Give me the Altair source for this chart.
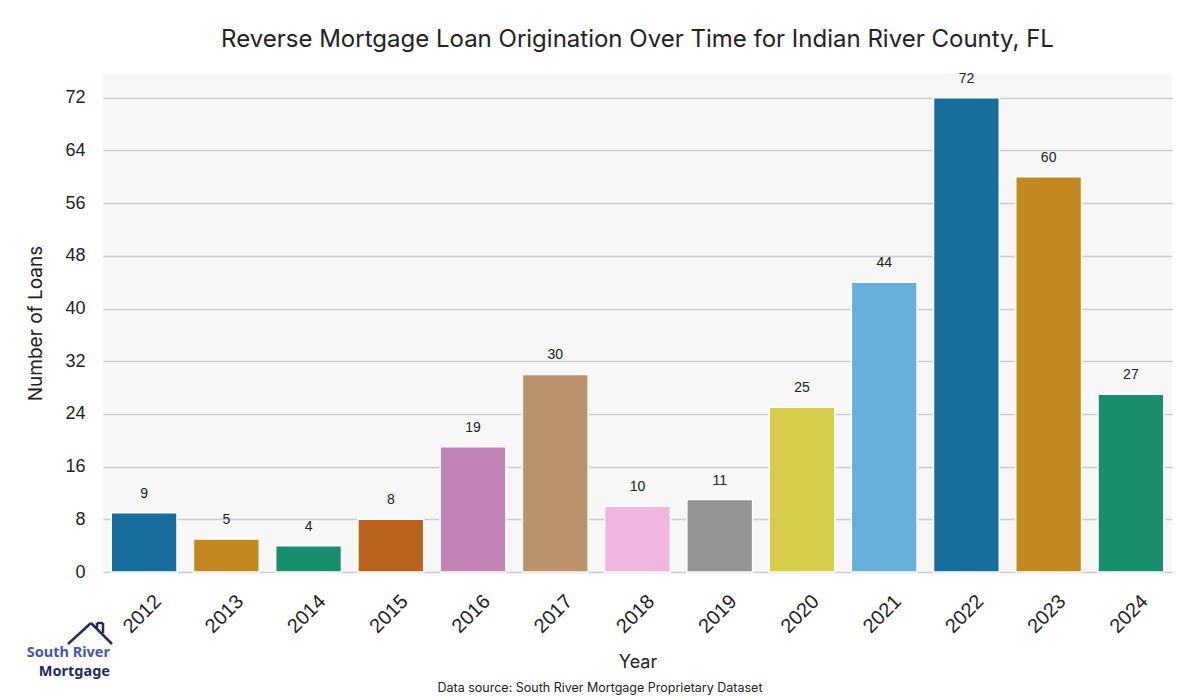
import altair as alt
import pandas as pd

years = ["2012", "2013", "2014", "2015", "2016", "2017", "2018", "2019", "2020", "2021", "2022", "2023", "2024"]
loans = [9, 5, 4, 8, 19, 30, 10, 11, 25, 44, 72, 60, 27]
colors = ["#176d9c", "#c38820", "#188e6a", "#b8621e", "#c382b5", "#bb926b", "#f0b6dd",
          "#949494", "#d6cd4b", "#67b0dc", "#176d9c", "#c38820", "#188e6a"]
y_ticks = [0, 8, 16, 24, 32, 40, 48, 56, 64, 72]

df = pd.DataFrame({"Year": years, "Loans": loans, "Color": colors})

W, H = 1069, 498
TITLE_FONT = "Inter"
NUM_FONT = "Liberation Sans"
NAVY = "#232b5e"

x = alt.X("Year:N", sort=years, title="Year",
          scale=alt.Scale(paddingInner=0.2, paddingOuter=0.1),
          axis=alt.Axis(labelAngle=-45, labelAlign="right", labelBaseline="middle",
                        labelFontSize=20, labelFont=NUM_FONT, labelColor="#222222",
                        labelPadding=26, labelOffset=14, ticks=False, domain=False,
                        titleFont=TITLE_FONT, titleFontSize=18, titleFontWeight="normal",
                        titleColor="#222222", titleY=90, titleBaseline="middle"))
y = alt.Y("Loans:Q", title="Number of Loans",
          scale=alt.Scale(domain=[0, 75.6], nice=False),
          axis=alt.Axis(values=y_ticks, labelFontSize=18, labelFont=NUM_FONT,
                        labelColor="#222222", labelPadding=18, ticks=False, domain=False,
                        gridColor="#cccccc", gridWidth=1.5,
                        titleFont=TITLE_FONT, titleFontSize=19, titleFontWeight="normal",
                        titleColor="#222222", titleX=-68, titleY=H / 2, titleAngle=-90,
                        titleBaseline="middle"))

base = alt.Chart(df)
bars = base.mark_bar(stroke="white", strokeWidth=1.5).encode(
    x=x, y=y, color=alt.Color("Color:N", scale=None, legend=None)
)
labels = base.mark_text(dy=-19, fontSize=14, font=NUM_FONT, color="#222222").encode(
    x=alt.X("Year:N", sort=years), y="Loans:Q", text="Loans:Q"
)

deco = alt.Chart(pd.DataFrame({"d": [0]}))
source = deco.mark_text(fontSize=12.5, font=TITLE_FONT, color="#222222").encode(
    x=alt.value(497), y=alt.value(614),
    text=alt.value("Data source: South River Mortgage Proprietary Dataset"))
logo1 = deco.mark_text(fontSize=14.5, font="Noto Sans", fontWeight="bold", color="#4657a8",
                       align="right", baseline="middle").encode(
    x=alt.value(7), y=alt.value(579), text=alt.value("South River"))
logo2 = deco.mark_text(fontSize=14.5, font="Noto Sans", fontWeight="bold", color=NAVY,
                       align="right", baseline="middle").encode(
    x=alt.value(7), y=alt.value(598), text=alt.value("Mortgage"))
roof1 = deco.mark_rule(color=NAVY, strokeWidth=2.5).encode(
    x=alt.value(-35), y=alt.value(570), x2=alt.value(-12), y2=alt.value(549))
roof2 = deco.mark_rule(color=NAVY, strokeWidth=2.5).encode(
    x=alt.value(-12), y=alt.value(549), x2=alt.value(9), y2=alt.value(570))
chim1 = deco.mark_rule(color=NAVY, strokeWidth=2.5).encode(
    x=alt.value(-6), y=alt.value(554), x2=alt.value(-6), y2=alt.value(549))
chim2 = deco.mark_rule(color=NAVY, strokeWidth=2.5).encode(
    x=alt.value(-6), y=alt.value(549), x2=alt.value(0), y2=alt.value(549))
chim3 = deco.mark_rule(color=NAVY, strokeWidth=2.5).encode(
    x=alt.value(0), y=alt.value(549), x2=alt.value(0), y2=alt.value(559))

chart = alt.layer(bars, labels, source, logo1, logo2, roof1, roof2, chim1, chim2, chim3).properties(
    width=W, height=H,
    background="white",
    title=alt.TitleParams("Reverse Mortgage Loan Origination Over Time for Indian River County, FL",
                          fontSize=24, font=TITLE_FONT, fontWeight="normal", color="#222222",
                          anchor="middle", offset=20),
    autosize=alt.AutoSizeParams(type="none"),
    padding={"left": 95, "top": 66, "right": 20, "bottom": 124},
).configure_view(fill="#f7f7f7", strokeWidth=0)

chart.save("out.html", embed_options={"renderer": "svg", "actions": False})
